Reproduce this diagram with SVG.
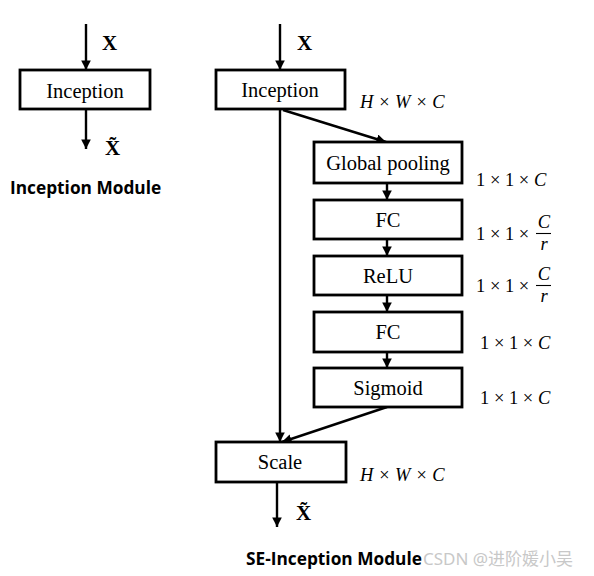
<svg xmlns="http://www.w3.org/2000/svg" width="594" height="576" viewBox="0 0 594 576">
<defs>
<marker id="ah" viewBox="0 0 10 10" refX="10" refY="5" markerWidth="4" markerHeight="4" orient="auto" markerUnits="strokeWidth">
<path d="M0,0 L10,5 L0,10 z" fill="#000"/>
</marker>
<style>
.box{fill:#fff;stroke:#000;stroke-width:2.8}
.lbl{font-family:"Liberation Serif",serif;font-size:20.5px;text-anchor:middle;fill:#000}
.x{font-family:"Liberation Serif",serif;font-size:21px;font-weight:bold;fill:#000}
.dim{font-family:"Liberation Serif",serif;font-size:18.5px;fill:#000}
.it{font-style:italic}
.cap{font-family:"Open Sans","Noto Sans",sans-serif;font-size:17.3px;font-weight:bold;fill:#000}
.con{stroke:#000;stroke-width:2.4;fill:none;marker-end:url(#ah)}
</style>
</defs>
<rect width="594" height="576" fill="#fff"/>
<g id="connectors">
<line class="con" x1="86" y1="24" x2="86" y2="70"/>
<line class="con" x1="86" y1="109" x2="86" y2="149"/>
<line class="con" x1="280" y1="24" x2="280" y2="70"/>
<line class="con" x1="283" y1="110" x2="386" y2="142"/>
<line class="con" x1="387" y1="183" x2="387" y2="200"/>
<line class="con" x1="387" y1="239" x2="387" y2="256"/>
<line class="con" x1="387" y1="295" x2="387" y2="312"/>
<line class="con" x1="387" y1="352" x2="387" y2="368"/>
<line class="con" x1="280" y1="109" x2="280" y2="442"/>
<line class="con" x1="387" y1="407" x2="282" y2="442"/>
<line class="con" x1="277" y1="482" x2="277" y2="527"/>
</g>
<g id="left-inception">
<rect class="box" x="20" y="70" width="130" height="39"/>
<text class="lbl" x="85" y="98">Inception</text>
</g>
<text class="x" x="102" y="50">X</text>
<text class="x" x="105" y="155">X&#x303;</text>
<text class="cap" x="10" y="194">Inception Module</text>
<g id="inception">
<rect class="box" x="216" y="70" width="129" height="39"/>
<text class="lbl" x="280" y="97">Inception</text>
</g>
<text class="x" x="297" y="50">X</text>
<text class="dim it" x="360" y="108">H × W × C</text>
<g id="global-pooling">
<rect class="box" x="314" y="142" width="148" height="41"/>
<text class="lbl" x="388" y="170">Global pooling</text>
</g>
<text class="dim" x="476" y="186">1 × 1 × <tspan class="it">C</tspan></text>
<g id="fc1">
<rect class="box" x="314" y="200" width="148" height="39"/>
<text class="lbl" x="388" y="227">FC</text>
</g>
<text class="dim" x="476" y="240">1 × 1 ×</text>
<text class="dim it" x="544" y="228" text-anchor="middle">C</text>
<line x1="536" y1="233.5" x2="551" y2="233.5" stroke="#000" stroke-width="1.1"/>
<text class="dim it" x="544" y="250" text-anchor="middle">r</text>
<g id="relu">
<rect class="box" x="314" y="256" width="148" height="39"/>
<text class="lbl" x="388" y="283">ReLU</text>
</g>
<text class="dim" x="476" y="292">1 × 1 ×</text>
<text class="dim it" x="544" y="280" text-anchor="middle">C</text>
<line x1="536" y1="285.5" x2="551" y2="285.5" stroke="#000" stroke-width="1.1"/>
<text class="dim it" x="544" y="302" text-anchor="middle">r</text>
<g id="fc2">
<rect class="box" x="314" y="312" width="148" height="40"/>
<text class="lbl" x="388" y="339">FC</text>
</g>
<text class="dim" x="480" y="349">1 × 1 × <tspan class="it">C</tspan></text>
<g id="sigmoid">
<rect class="box" x="314" y="368" width="148" height="39"/>
<text class="lbl" x="388" y="395">Sigmoid</text>
</g>
<text class="dim" x="480" y="404">1 × 1 × <tspan class="it">C</tspan></text>
<g id="scale">
<rect class="box" x="216" y="442" width="130" height="40"/>
<text class="lbl" x="280" y="469">Scale</text>
</g>
<text class="dim it" x="360" y="481">H × W × C</text>
<text class="x" x="296" y="520">X&#x303;</text>
<text class="cap" x="246" y="565">SE-Inception Module</text>
<text x="423" y="565" font-family="'Noto Sans','Noto Sans CJK SC',sans-serif" font-size="17" fill="#c8c8c8">CSDN @进阶媛小吴</text>
</svg>
